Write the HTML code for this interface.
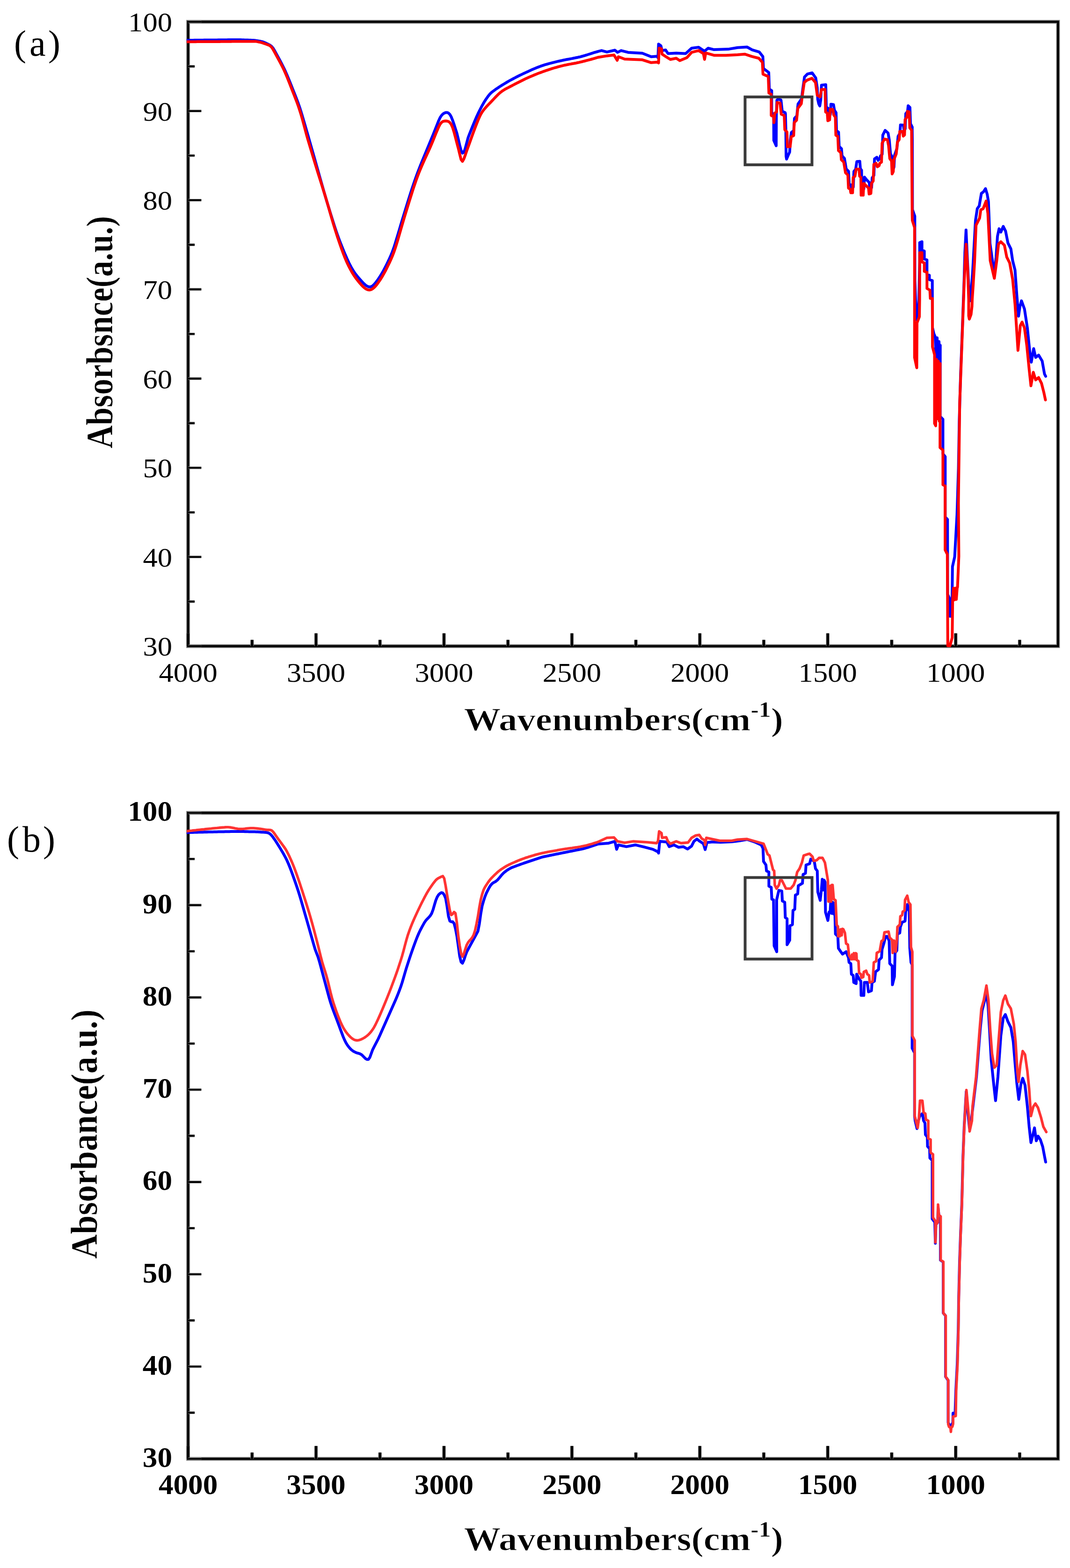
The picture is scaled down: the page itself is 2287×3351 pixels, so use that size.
<!DOCTYPE html>
<html lang="en"><head><meta charset="utf-8"><title>FTIR spectra</title>
<style>html,body{margin:0;padding:0;background:#fff}svg{display:block}</style></head>
<body>
<svg width="2287" height="3351" viewBox="0 0 2287 3351">
<rect width="2287" height="3351" fill="#fff"/>
<clipPath id="ca"><rect x="399.1" y="46.6" width="1862.3" height="1337.3"/></clipPath>
<rect x="402.1" y="46.6" width="1859.3" height="1334.3" fill="none" stroke="#808080" stroke-width="8.0"/>
<rect x="402.1" y="46.6" width="1859.3" height="1334.3" fill="none" stroke="#000" stroke-width="4.5"/>
<g clip-path="url(#ca)" fill="none" stroke-linejoin="round" stroke-linecap="round">
<polyline stroke="#0000ff" stroke-width="6" points="400.5,86.0 403.5,86.0 406.5,85.9 409.5,85.9 412.5,85.9 415.5,85.8 418.5,85.8 421.5,85.8 424.5,85.8 427.5,85.7 430.5,85.7 433.5,85.7 436.5,85.6 439.5,85.6 442.5,85.6 445.5,85.5 448.5,85.5 451.5,85.5 454.5,85.5 457.5,85.4 460.5,85.4 463.5,85.4 466.5,85.3 469.5,85.3 472.5,85.3 475.5,85.2 478.5,85.2 481.5,85.2 484.5,85.2 487.5,85.1 490.5,85.1 493.5,85.1 496.5,85.0 499.5,85.0 502.5,85.0 505.5,85.0 508.5,85.0 511.5,85.0 514.5,85.1 517.5,85.2 520.5,85.3 523.5,85.4 526.5,85.5 529.5,85.6 532.5,85.7 535.5,85.8 538.5,85.9 541.5,86.1 544.5,86.3 547.5,86.7 550.5,87.1 553.5,87.6 556.5,88.2 559.5,88.9 562.5,89.7 565.5,90.9 568.5,92.3 571.5,93.8 574.5,95.2 577.5,96.8 580.5,99.1 583.5,102.7 586.5,107.5 589.5,112.9 592.5,118.4 595.5,123.9 598.5,129.4 601.5,135.1 604.5,141.0 607.5,147.1 610.5,153.6 613.5,160.5 616.5,167.6 619.5,174.9 622.5,182.4 625.5,190.0 628.5,197.6 631.5,205.2 634.5,212.9 637.5,220.9 640.5,229.5 643.5,238.8 646.5,248.9 649.5,259.1 652.5,269.4 655.5,279.8 658.5,290.2 661.5,300.7 664.5,311.2 667.5,321.8 670.5,332.3 673.5,342.9 676.5,353.5 679.5,364.1 682.5,374.8 685.5,385.3 688.5,395.9 691.5,406.4 694.5,416.7 697.5,426.8 700.5,436.8 703.5,446.7 706.5,456.4 709.5,466.0 712.5,475.5 715.5,484.8 718.5,494.0 721.5,502.6 724.5,510.8 727.5,518.6 730.5,526.2 733.5,533.6 736.5,540.8 739.5,547.8 742.5,554.6 745.5,561.0 748.5,567.0 751.5,572.6 754.5,577.6 757.5,582.2 760.5,586.4 763.5,590.2 766.5,593.7 769.5,597.2 772.5,600.6 775.5,603.8 778.5,606.8 781.5,609.4 784.5,611.4 787.5,612.8 790.5,613.3 793.5,612.5 796.5,610.7 799.5,608.0 802.5,604.6 805.5,600.7 808.5,596.5 811.5,592.0 814.5,587.2 817.5,582.1 820.5,576.7 823.5,571.0 826.5,565.0 829.5,558.8 832.5,552.5 835.5,545.7 838.5,538.3 841.5,530.1 844.5,520.8 847.5,511.0 850.5,501.1 853.5,491.0 856.5,480.9 859.5,470.9 862.5,461.1 865.5,451.4 868.5,441.7 871.5,432.0 874.5,422.4 877.5,412.9 880.5,403.6 883.5,394.6 886.5,385.9 889.5,377.5 892.5,369.4 895.5,361.6 898.5,353.9 901.5,346.5 904.5,339.1 907.5,331.8 910.5,324.6 913.5,317.3 916.5,310.1 919.5,302.9 922.5,295.6 925.5,288.3 928.5,281.0 931.5,273.4 934.5,265.8 937.5,258.2 940.5,251.7 943.5,247.0 946.5,243.8 949.5,241.8 952.5,240.6 955.5,240.4 958.5,241.5 961.5,244.6 964.5,249.8 967.5,257.3 970.5,266.0 973.5,275.3 976.5,284.7 979.5,296.9 982.5,310.2 985.5,321.4 988.5,327.3 991.5,325.2 994.5,316.8 997.5,305.4 1000.5,294.3 1003.5,286.3 1006.5,278.9 1009.5,271.5 1012.5,264.1 1015.5,256.9 1018.5,250.0 1021.5,243.4 1024.5,237.2 1027.5,231.3 1030.5,225.7 1033.5,220.4 1036.5,215.5 1039.5,210.9 1042.5,206.7 1045.5,202.8 1048.5,199.5 1051.5,196.8 1054.5,194.6 1057.5,192.4 1060.5,190.2 1063.5,188.2 1066.5,186.2 1069.5,184.2 1072.5,182.4 1075.5,180.5 1078.5,178.7 1081.5,176.9 1084.5,175.1 1087.5,173.3 1090.5,171.7 1093.5,170.1 1096.5,168.5 1099.5,166.9 1102.5,165.3 1105.5,163.8 1108.5,162.3 1111.5,160.8 1114.5,159.4 1117.5,157.9 1120.5,156.5 1123.5,155.1 1126.5,153.7 1129.5,152.4 1132.5,151.0 1135.5,149.6 1138.5,148.3 1141.5,147.0 1144.5,145.8 1147.5,144.5 1150.5,143.4 1153.5,142.2 1156.5,141.1 1159.5,140.1 1162.5,139.1 1165.5,138.2 1168.5,137.3 1171.5,136.5 1174.5,135.6 1177.5,134.9 1180.5,134.1 1183.5,133.3 1186.5,132.6 1189.5,131.9 1192.5,131.2 1195.5,130.5 1198.5,129.8 1201.5,129.2 1204.5,128.5 1207.5,127.9 1210.5,127.3 1213.5,126.7 1216.5,126.2 1219.5,125.6 1222.5,125.1 1225.5,124.5 1228.5,123.9 1231.5,123.3 1234.5,122.7 1237.5,122.0 1240.5,121.3 1243.5,120.5 1246.5,119.7 1249.5,118.8 1252.5,117.9 1255.5,117.0 1258.5,116.0 1261.5,115.1 1264.5,114.1 1267.5,113.2 1270.5,112.2 1273.5,111.3 1276.5,110.5 1279.5,109.7 1282.5,108.9 1285.5,108.2 1285.9,108.1 1297.2,111.1 1314.3,107.3 1319.9,111.9 1327.5,108.1 1342.6,111.9 1372.9,113.8 1391.8,121.3 1405.0,120.2 1406.3,123.2 1407.6,94.2 1412.6,98.0 1415.1,108.1 1422.7,106.8 1427.7,114.4 1445.4,113.6 1465.6,114.4 1478.2,103.0 1493.3,101.0 1505.9,109.4 1513.5,103.0 1526.1,106.1 1556.4,105.1 1576.5,101.8 1596.7,100.5 1607.8,106.6 1622.9,111.2 1630.5,120.8 1631.8,146.4 1643.1,154.9 1644.4,190.5 1649.4,193.8 1649.4,239.2 1653.6,249.0 1653.9,300.0 1659.0,311.5 1659.4,245.0 1660.5,214.0 1663.0,212.1 1669.3,213.7 1671.9,237.9 1678.2,240.8 1678.8,243.0 1679.6,275.0 1680.2,334.0 1681.2,340.0 1685.0,331.0 1687.8,325.0 1689.2,300.0 1691.5,283.0 1696.5,279.0 1698.1,253.0 1703.1,247.5 1705.7,222.2 1713.2,211.4 1715.8,190.6 1719.5,164.6 1725.8,158.1 1735.9,155.8 1743.5,166.4 1746.8,188.0 1747.8,212.0 1750.0,222.0 1752.2,226.5 1754.2,214.0 1755.8,182.0 1765.0,181.0 1766.1,228.8 1769.7,231.2 1770.9,247.3 1774.7,245.4 1776.0,222.7 1781.5,223.5 1783.5,235.3 1787.0,240.8 1788.0,279.3 1792.3,282.5 1793.6,312.8 1798.6,317.9 1799.8,333.2 1804.9,338.5 1808.7,361.2 1813.7,366.2 1815.0,393.9 1818.8,395.2 1820.0,402.1 1823.8,399.9 1825.1,366.4 1828.8,361.9 1831.4,345.3 1837.7,344.7 1838.9,360.3 1841.5,363.7 1842.0,401.7 1846.5,403.3 1847.8,378.6 1852.8,384.9 1857.9,389.9 1859.1,402.6 1862.9,401.3 1864.2,379.9 1867.9,374.8 1869.2,339.5 1874.2,336.1 1876.8,342.6 1880.5,338.9 1881.8,333.4 1885.6,329.6 1886.9,288.7 1891.9,278.6 1898.2,284.4 1900.7,298.8 1903.3,328.6 1907.0,335.7 1908.3,363.1 1910.8,357.2 1912.1,331.5 1917.1,317.3 1919.6,291.2 1923.4,284.9 1924.7,266.9 1931.0,267.5 1932.2,277.7 1934.8,275.4 1936.0,242.8 1939.8,238.0 1941.1,225.9 1944.9,229.6 1946.1,264.4 1949.9,271.9 1949.7,273.3 1950.0,300.0 1950.3,448.0 1955.3,462.0 1955.5,600.0 1958.5,683.0 1961.0,683.0 1964.0,640.0 1965.7,560.0 1965.7,518.5 1970.6,516.5 1970.6,534.6 1975.6,536.5 1975.6,553.5 1981.3,555.5 1981.3,586.3 1986.4,588.3 1986.4,597.6 1992.7,599.6 1993.0,700.0 1996.0,713.0 1999.0,720.0 2001.0,770.0 2003.0,722.0 2005.0,772.0 2007.0,730.0 2009.5,775.0 2009.7,738.0 2009.5,890.0 2015.4,896.0 2015.4,970.0 2020.3,976.0 2020.3,1105.0 2025.2,1110.0 2025.5,1270.0 2029.8,1280.0 2030.3,1317.0 2034.5,1317.0 2035.3,1253.0 2035.8,1211.0 2040.5,1190.0 2045.5,1100.0 2048.6,1000.0 2050.3,900.0 2053.2,800.0 2057.0,700.0 2060.6,600.0 2062.3,540.0 2064.8,491.4 2068.0,560.0 2071.0,620.0 2073.6,643.0 2076.0,620.0 2079.0,580.0 2085.0,471.2 2088.8,446.0 2093.0,440.0 2097.6,413.2 2102.0,410.0 2106.4,403.1 2110.0,415.0 2112.7,430.9 2116.0,520.0 2121.6,560.0 2125.3,585.0 2129.0,550.0 2132.0,505.0 2135.4,488.9 2139.2,496.0 2144.3,483.8 2149.3,493.9 2154.3,519.2 2160.6,531.8 2164.4,557.0 2169.5,577.2 2173.3,630.0 2177.0,675.7 2180.0,655.0 2183.3,642.9 2189.7,660.5 2195.9,700.9 2201.0,751.3 2204.3,774.0 2209.3,745.0 2213.6,763.9 2219.9,758.9 2227.5,771.5 2232.5,799.2 2235.0,804.3"/>
<polyline stroke="#ff0000" stroke-width="6" points="400.5,89.2 403.5,89.2 406.5,89.2 409.5,89.2 412.5,89.2 415.5,89.2 418.5,89.2 421.5,89.1 424.5,89.1 427.5,89.1 430.5,89.1 433.5,89.1 436.5,89.1 439.5,89.1 442.5,89.0 445.5,89.0 448.5,89.0 451.5,89.0 454.5,89.0 457.5,88.9 460.5,88.9 463.5,88.9 466.5,88.9 469.5,88.9 472.5,88.8 475.5,88.8 478.5,88.8 481.5,88.8 484.5,88.7 487.5,88.7 490.5,88.7 493.5,88.7 496.5,88.6 499.5,88.6 502.5,88.6 505.5,88.6 508.5,88.5 511.5,88.5 514.5,88.5 517.5,88.5 520.5,88.5 523.5,88.5 526.5,88.4 529.5,88.4 532.5,88.4 535.5,88.4 538.5,88.4 541.5,88.4 544.5,88.4 547.5,88.6 550.5,89.1 553.5,89.7 556.5,90.3 559.5,91.1 562.5,92.1 565.5,93.2 568.5,94.3 571.5,95.4 574.5,96.4 577.5,98.1 580.5,100.9 583.5,105.4 586.5,110.7 589.5,116.2 592.5,121.7 595.5,127.2 598.5,132.8 601.5,138.5 604.5,144.4 607.5,150.7 610.5,157.5 613.5,164.7 616.5,172.1 619.5,179.7 622.5,187.4 625.5,195.1 628.5,202.7 631.5,210.4 634.5,218.3 637.5,226.6 640.5,235.5 643.5,245.1 646.5,255.7 649.5,266.8 652.5,278.1 655.5,289.2 658.5,299.7 661.5,309.7 664.5,319.7 667.5,329.7 670.5,339.7 673.5,349.5 676.5,359.3 679.5,369.0 682.5,378.6 685.5,388.1 688.5,397.7 691.5,407.3 694.5,417.0 697.5,426.9 700.5,437.0 703.5,447.4 706.5,457.8 709.5,468.1 712.5,478.3 715.5,488.2 718.5,497.7 721.5,507.0 724.5,515.9 727.5,524.6 730.5,533.1 733.5,541.3 736.5,549.0 739.5,556.2 742.5,562.9 745.5,569.1 748.5,574.9 751.5,580.4 754.5,585.4 757.5,590.0 760.5,594.3 763.5,598.2 766.5,602.0 769.5,605.6 772.5,609.0 775.5,612.1 778.5,614.9 781.5,617.1 784.5,618.7 787.5,619.6 790.5,619.7 793.5,618.8 796.5,617.1 799.5,614.7 802.5,611.6 805.5,608.0 808.5,603.9 811.5,599.6 814.5,595.0 817.5,590.1 820.5,584.8 823.5,579.3 826.5,573.4 829.5,567.3 832.5,561.1 835.5,554.6 838.5,547.6 841.5,539.9 844.5,531.3 847.5,521.8 850.5,511.8 853.5,501.5 856.5,491.0 859.5,480.6 862.5,470.3 865.5,460.4 868.5,450.6 871.5,440.8 874.5,431.1 877.5,421.5 880.5,412.0 883.5,402.7 886.5,393.7 889.5,385.1 892.5,376.8 895.5,369.0 898.5,361.6 901.5,354.5 904.5,347.7 907.5,341.1 910.5,334.6 913.5,328.1 916.5,321.6 919.5,314.8 922.5,307.8 925.5,300.5 928.5,293.1 931.5,285.7 934.5,278.5 937.5,271.5 940.5,265.7 943.5,261.9 946.5,259.7 949.5,258.8 952.5,258.6 955.5,258.8 958.5,259.6 961.5,261.8 964.5,266.0 967.5,272.9 970.5,282.5 973.5,293.8 976.5,305.5 979.5,316.6 982.5,329.1 985.5,340.9 988.5,344.9 991.5,339.5 994.5,331.4 997.5,322.5 1000.5,314.2 1003.5,305.9 1006.5,297.5 1009.5,289.2 1012.5,281.0 1015.5,273.0 1018.5,265.1 1021.5,257.6 1024.5,250.7 1027.5,244.5 1030.5,239.4 1033.5,235.3 1036.5,231.7 1039.5,228.3 1042.5,225.0 1045.5,221.9 1048.5,218.8 1051.5,215.7 1054.5,212.5 1057.5,209.3 1060.5,206.1 1063.5,203.1 1066.5,200.2 1069.5,197.6 1072.5,195.3 1075.5,193.2 1078.5,191.4 1081.5,189.7 1084.5,188.1 1087.5,186.6 1090.5,185.0 1093.5,183.5 1096.5,181.9 1099.5,180.3 1102.5,178.8 1105.5,177.2 1108.5,175.7 1111.5,174.2 1114.5,172.7 1117.5,171.2 1120.5,169.7 1123.5,168.3 1126.5,166.9 1129.5,165.6 1132.5,164.3 1135.5,163.0 1138.5,161.7 1141.5,160.4 1144.5,159.2 1147.5,158.0 1150.5,156.8 1153.5,155.7 1156.5,154.6 1159.5,153.5 1162.5,152.4 1165.5,151.4 1168.5,150.3 1171.5,149.3 1174.5,148.3 1177.5,147.4 1180.5,146.4 1183.5,145.5 1186.5,144.6 1189.5,143.8 1192.5,142.9 1195.5,142.1 1198.5,141.3 1201.5,140.6 1204.5,139.9 1207.5,139.2 1210.5,138.6 1213.5,138.0 1216.5,137.4 1219.5,136.9 1222.5,136.3 1225.5,135.8 1228.5,135.2 1231.5,134.7 1234.5,134.0 1237.5,133.4 1240.5,132.7 1243.5,132.0 1246.5,131.2 1249.5,130.5 1252.5,129.7 1255.5,128.9 1258.5,128.1 1261.5,127.3 1264.5,126.5 1267.5,125.7 1270.5,124.8 1273.5,123.9 1276.5,123.0 1278.3,122.5 1297.2,119.4 1312.4,117.6 1319.2,128.9 1321.8,121.3 1335.1,126.3 1372.9,127.8 1391.8,133.8 1405.0,132.7 1407.6,134.6 1408.8,103.0 1413.9,104.3 1415.1,115.7 1422.7,120.7 1432.8,127.0 1445.4,124.5 1453.0,129.5 1468.1,123.2 1478.2,111.9 1493.3,108.1 1503.4,114.4 1505.9,127.0 1508.4,113.1 1526.1,118.2 1551.3,118.2 1576.5,116.9 1591.7,115.7 1606.8,120.7 1621.9,124.5 1629.5,133.3 1630.8,158.5 1642.1,163.6 1643.4,198.9 1648.4,201.4 1648.4,246.8 1653.5,249.3 1654.2,262.0 1656.0,241.8 1659.8,239.2 1661.0,219.1 1667.3,220.3 1669.9,244.3 1676.2,246.8 1677.4,277.1 1682.0,282.1 1683.0,313.6 1688.8,313.6 1691.3,292.2 1696.4,289.7 1697.6,262.0 1702.6,256.9 1705.2,231.7 1712.7,221.6 1715.3,201.4 1719.0,176.2 1725.3,171.1 1735.4,167.4 1743.0,176.2 1746.8,203.9 1753.1,207.0 1755.6,191.3 1763.5,191.3 1764.6,239.2 1768.2,241.8 1769.4,258.0 1773.2,256.3 1774.5,233.6 1780.0,234.0 1782.0,245.6 1785.5,250.6 1786.5,289.0 1790.8,291.6 1792.1,321.8 1797.1,326.3 1798.3,341.4 1803.4,346.5 1807.2,369.2 1812.2,374.2 1813.5,401.9 1817.3,404.5 1818.5,412.0 1822.3,412.0 1823.6,379.2 1827.3,376.7 1829.9,361.6 1836.2,361.6 1837.4,376.7 1840.0,379.2 1840.5,417.1 1845.0,417.1 1846.3,391.9 1851.3,396.9 1856.4,401.9 1857.6,414.6 1861.4,413.3 1862.7,391.9 1866.4,386.8 1867.7,351.5 1872.7,349.0 1875.3,356.5 1879.0,354.0 1880.3,349.0 1884.1,346.5 1885.4,306.1 1890.4,297.3 1896.7,298.5 1899.2,311.1 1901.8,338.9 1905.5,343.9 1906.8,371.7 1909.3,366.6 1910.6,341.4 1915.6,328.8 1918.1,303.6 1921.9,298.5 1923.2,280.9 1929.5,280.9 1930.7,291.0 1933.3,288.4 1934.5,255.7 1938.3,250.6 1939.6,238.0 1943.4,239.2 1944.6,273.3 1948.4,278.3 1949.7,457.4 1950.0,471.2 1954.8,486.4 1954.8,763.9 1959.5,786.0 1960.0,690.0 1965.0,677.0 1965.6,640.0 1965.8,540.0 1970.6,540.0 1970.6,559.8 1975.6,562.0 1975.6,580.0 1981.3,582.0 1981.3,616.5 1987.5,620.0 1988.5,637.8 1992.9,638.0 1993.1,741.2 1997.5,758.0 1997.5,905.0 2000.0,910.0 2001.5,768.0 2003.5,895.0 2005.5,772.0 2007.5,900.0 2009.4,777.0 2009.2,956.5 2015.4,962.1 2015.4,1035.9 2020.1,1038.7 2020.1,1175.2 2024.8,1184.7 2025.8,1380.0 2030.5,1380.0 2035.2,1362.5 2036.2,1283.0 2038.0,1257.0 2040.0,1282.0 2042.0,1257.0 2044.0,1281.0 2046.0,1254.7 2046.6,1254.7 2049.4,1188.5 2048.5,1075.0 2051.3,860.0 2061.0,600.0 2063.0,560.0 2064.9,522.0 2068.0,570.0 2070.5,640.0 2070.5,675.0 2071.8,682.0 2075.5,672.0 2077.5,655.0 2078.0,640.0 2080.0,610.0 2083.0,560.0 2086.2,481.3 2093.8,466.2 2096.3,448.5 2101.4,446.0 2107.7,429.6 2111.5,456.1 2114.0,506.5 2116.5,557.0 2125.3,594.8 2130.4,557.0 2134.2,521.7 2139.2,516.6 2146.8,524.2 2151.8,549.4 2158.1,562.0 2164.4,597.0 2169.5,650.4 2175.8,748.8 2180.8,695.8 2184.6,688.3 2189.7,700.9 2194.7,738.7 2199.7,789.2 2203.5,824.5 2208.6,795.5 2213.6,811.9 2219.9,806.8 2226.2,819.4 2231.3,839.6 2234.5,854.7"/>
</g>
<rect x="1592.5" y="207.2" width="143.0" height="145.0" fill="none" stroke="#3a3a3a" stroke-width="6"/>
<path d="M402.1 1380.9V1353.4M538.8 1380.9V1367.4M675.5 1380.9V1353.4M812.2 1380.9V1367.4M949.0 1380.9V1353.4M1085.7 1380.9V1367.4M1222.4 1380.9V1353.4M1359.1 1380.9V1367.4M1495.8 1380.9V1353.4M1632.5 1380.9V1367.4M1769.2 1380.9V1353.4M1905.9 1380.9V1367.4M2042.7 1380.9V1353.4M2179.4 1380.9V1367.4" stroke="#808080" stroke-width="7.4" fill="none"/>
<path d="M402.1 1380.9V1353.4M538.8 1380.9V1367.4M675.5 1380.9V1353.4M812.2 1380.9V1367.4M949.0 1380.9V1353.4M1085.7 1380.9V1367.4M1222.4 1380.9V1353.4M1359.1 1380.9V1367.4M1495.8 1380.9V1353.4M1632.5 1380.9V1367.4M1769.2 1380.9V1353.4M1905.9 1380.9V1367.4M2042.7 1380.9V1353.4M2179.4 1380.9V1367.4" stroke="#000" stroke-width="5.4" fill="none"/>
<path d="M402.1 46.6H430.3M402.1 141.9H416.1M402.1 237.2H430.3M402.1 332.5H416.1M402.1 427.8H430.3M402.1 523.1H416.1M402.1 618.4H430.3M402.1 713.8H416.1M402.1 809.1H430.3M402.1 904.4H416.1M402.1 999.7H430.3M402.1 1095.0H416.1M402.1 1190.3H430.3M402.1 1285.6H416.1M402.1 1380.9H430.3" stroke="#808080" stroke-width="5.6" fill="none"/>
<path d="M402.1 46.6H430.3M402.1 141.9H416.1M402.1 237.2H430.3M402.1 332.5H416.1M402.1 427.8H430.3M402.1 523.1H416.1M402.1 618.4H430.3M402.1 713.8H416.1M402.1 809.1H430.3M402.1 904.4H416.1M402.1 999.7H430.3M402.1 1095.0H416.1M402.1 1190.3H430.3M402.1 1285.6H416.1M402.1 1380.9H430.3" stroke="#000" stroke-width="3.6" fill="none"/>
<g font-family="'Liberation Serif', serif" font-size="58" fill="#000">
<text x="368" y="67.1" text-anchor="end" textLength="93.9" lengthAdjust="spacingAndGlyphs">100</text>
<text x="368" y="257.7" text-anchor="end" textLength="62.6" lengthAdjust="spacingAndGlyphs">90</text>
<text x="368" y="448.3" text-anchor="end" textLength="62.6" lengthAdjust="spacingAndGlyphs">80</text>
<text x="368" y="638.9" text-anchor="end" textLength="62.6" lengthAdjust="spacingAndGlyphs">70</text>
<text x="368" y="829.6" text-anchor="end" textLength="62.6" lengthAdjust="spacingAndGlyphs">60</text>
<text x="368" y="1020.2" text-anchor="end" textLength="62.6" lengthAdjust="spacingAndGlyphs">50</text>
<text x="368" y="1210.8" text-anchor="end" textLength="62.6" lengthAdjust="spacingAndGlyphs">40</text>
<text x="368" y="1401.4" text-anchor="end" textLength="62.6" lengthAdjust="spacingAndGlyphs">30</text>
<text x="402.1" y="1456.5" text-anchor="middle" textLength="125.2" lengthAdjust="spacingAndGlyphs">4000</text>
<text x="675.5" y="1456.5" text-anchor="middle" textLength="125.2" lengthAdjust="spacingAndGlyphs">3500</text>
<text x="949.0" y="1456.5" text-anchor="middle" textLength="125.2" lengthAdjust="spacingAndGlyphs">3000</text>
<text x="1222.4" y="1456.5" text-anchor="middle" textLength="125.2" lengthAdjust="spacingAndGlyphs">2500</text>
<text x="1495.8" y="1456.5" text-anchor="middle" textLength="125.2" lengthAdjust="spacingAndGlyphs">2000</text>
<text x="1769.2" y="1456.5" text-anchor="middle" textLength="125.2" lengthAdjust="spacingAndGlyphs">1500</text>
<text x="2042.7" y="1456.5" text-anchor="middle" textLength="125.2" lengthAdjust="spacingAndGlyphs">1000</text>
</g>
<text transform="translate(240.2 958.6) rotate(-90) scale(1 1.150)" font-family="'Liberation Serif', serif" font-weight="bold" font-size="69" textLength="497.0" lengthAdjust="spacingAndGlyphs" stroke="#fff" stroke-width="0.6">Absorbsnce(a.u.)</text>
<text transform="translate(991.5 1560.6) scale(1.126 1)" font-family="'Liberation Serif', serif" font-weight="bold" font-size="70" stroke="#fff" stroke-width="1.1">Wavenumbers(cm<tspan font-size="46.2" dy="-29.05" stroke-width="0.6">-1</tspan><tspan dy="29.05">)</tspan></text>
<text font-family="'Liberation Serif', serif" font-size="78" y="119.2"><tspan x="30">(</tspan><tspan x="63">a</tspan><tspan x="103">)</tspan></text>
<clipPath id="cb"><rect x="399.1" y="1737.2" width="1862.3" height="1383.5"/></clipPath>
<rect x="402.1" y="1737.2" width="1859.3" height="1380.5" fill="none" stroke="#808080" stroke-width="8.0"/>
<rect x="402.1" y="1737.2" width="1859.3" height="1380.5" fill="none" stroke="#000" stroke-width="4.5"/>
<g clip-path="url(#cb)" fill="none" stroke-linejoin="round" stroke-linecap="round">
<polyline stroke="#0000ff" stroke-width="6" points="400.5,1779.2 403.5,1779.1 406.5,1779.0 409.5,1779.0 412.5,1778.9 415.5,1778.8 418.5,1778.7 421.5,1778.7 424.5,1778.6 427.5,1778.5 430.5,1778.5 433.5,1778.4 436.5,1778.3 439.5,1778.2 442.5,1778.2 445.5,1778.1 448.5,1778.0 451.5,1778.0 454.5,1777.9 457.5,1777.8 460.5,1777.8 463.5,1777.7 466.5,1777.6 469.5,1777.6 472.5,1777.5 475.5,1777.4 478.5,1777.4 481.5,1777.3 484.5,1777.3 487.5,1777.2 490.5,1777.2 493.5,1777.1 496.5,1777.1 499.5,1777.0 502.5,1777.0 505.5,1776.9 508.5,1776.9 511.5,1777.0 514.5,1777.0 517.5,1777.0 520.5,1777.1 523.5,1777.2 526.5,1777.2 529.5,1777.3 532.5,1777.4 535.5,1777.4 538.5,1777.5 541.5,1777.5 544.5,1777.6 547.5,1777.7 550.5,1777.8 553.5,1778.0 556.5,1778.2 559.5,1778.4 562.5,1778.6 565.5,1778.8 568.5,1779.1 571.5,1779.4 574.5,1780.5 577.5,1782.4 580.5,1785.4 583.5,1789.2 586.5,1793.4 589.5,1797.9 592.5,1802.6 595.5,1807.4 598.5,1812.3 601.5,1817.3 604.5,1822.3 607.5,1827.6 610.5,1833.2 613.5,1839.2 616.5,1846.0 619.5,1853.4 622.5,1861.3 625.5,1869.6 628.5,1878.0 631.5,1886.5 634.5,1895.2 637.5,1904.2 640.5,1913.8 643.5,1924.0 646.5,1934.4 649.5,1944.9 652.5,1955.3 655.5,1965.8 658.5,1976.3 661.5,1986.8 664.5,1997.4 667.5,2007.9 670.5,2018.5 673.5,2028.7 676.5,2036.7 679.5,2044.4 682.5,2054.3 685.5,2065.2 688.5,2076.5 691.5,2087.8 694.5,2098.8 697.5,2109.9 700.5,2121.1 703.5,2132.1 706.5,2142.4 709.5,2151.5 712.5,2159.7 715.5,2167.6 718.5,2175.5 721.5,2183.5 724.5,2191.5 727.5,2199.6 730.5,2207.6 733.5,2215.6 736.5,2222.6 739.5,2228.6 742.5,2233.5 745.5,2237.6 748.5,2241.0 751.5,2243.9 754.5,2246.1 757.5,2247.9 760.5,2249.3 763.5,2250.3 766.5,2251.2 769.5,2252.1 772.5,2253.8 775.5,2256.5 778.5,2259.7 781.5,2262.6 784.5,2264.2 787.5,2264.0 790.5,2259.7 793.5,2251.4 796.5,2243.3 799.5,2237.4 802.5,2231.7 805.5,2225.9 808.5,2220.0 811.5,2213.6 814.5,2206.8 817.5,2200.1 820.5,2193.3 823.5,2186.5 826.5,2179.7 829.5,2173.0 832.5,2166.2 835.5,2159.5 838.5,2152.7 841.5,2146.0 844.5,2139.2 847.5,2132.2 850.5,2124.9 853.5,2117.2 856.5,2109.0 859.5,2099.9 862.5,2089.7 865.5,2079.2 868.5,2069.2 871.5,2059.8 874.5,2050.6 877.5,2041.6 880.5,2032.9 883.5,2024.4 886.5,2016.2 889.5,2008.3 892.5,2000.7 895.5,1993.7 898.5,1987.5 901.5,1981.8 904.5,1976.4 907.5,1971.1 910.5,1966.8 913.5,1963.6 916.5,1960.6 919.5,1957.2 922.5,1952.4 925.5,1944.5 928.5,1934.2 931.5,1924.2 934.5,1916.9 937.5,1912.2 940.5,1909.3 943.5,1907.6 946.5,1908.4 949.5,1912.6 952.5,1919.8 955.5,1937.1 958.5,1958.2 961.5,1968.3 964.5,1970.0 967.5,1969.8 970.5,1973.5 973.5,1984.7 976.5,2000.1 979.5,2021.4 982.5,2043.5 985.5,2055.8 988.5,2058.5 991.5,2052.0 994.5,2042.8 997.5,2034.6 1000.5,2028.8 1003.5,2023.3 1006.5,2017.8 1009.5,2012.3 1012.5,2006.8 1015.5,2001.3 1018.5,1995.8 1021.5,1990.1 1024.5,1975.0 1027.5,1953.3 1030.5,1936.2 1033.5,1925.6 1036.5,1916.3 1039.5,1908.8 1042.5,1902.8 1045.5,1897.1 1048.5,1892.2 1051.5,1888.7 1054.5,1886.5 1057.5,1884.9 1060.5,1883.1 1063.5,1880.5 1066.5,1877.1 1069.5,1873.4 1072.5,1869.7 1075.5,1866.4 1078.5,1863.8 1081.5,1861.5 1084.5,1859.4 1087.5,1857.5 1090.5,1855.8 1093.5,1854.3 1096.5,1853.1 1099.5,1852.0 1102.5,1850.9 1105.5,1849.8 1108.5,1848.7 1111.5,1847.6 1114.5,1846.5 1117.5,1845.5 1120.5,1844.4 1123.5,1843.4 1126.5,1842.4 1129.5,1841.4 1132.5,1840.4 1135.5,1839.4 1138.5,1838.4 1141.5,1837.4 1144.5,1836.3 1147.5,1835.3 1150.5,1834.3 1153.5,1833.3 1156.5,1832.4 1159.5,1831.5 1162.5,1830.8 1165.5,1830.2 1168.5,1829.6 1171.5,1829.0 1174.5,1828.3 1177.5,1827.7 1180.5,1827.1 1183.5,1826.5 1186.5,1825.9 1189.5,1825.3 1192.5,1824.7 1195.5,1824.1 1198.5,1823.5 1201.5,1822.9 1204.5,1822.3 1207.5,1821.7 1210.5,1821.1 1213.5,1820.5 1216.5,1819.9 1219.5,1819.3 1222.5,1818.7 1225.5,1818.1 1228.5,1817.5 1231.5,1816.9 1234.5,1816.3 1237.5,1815.7 1240.5,1815.1 1243.5,1814.5 1246.5,1813.8 1249.5,1813.0 1252.5,1812.2 1255.5,1811.3 1258.5,1810.4 1261.5,1809.5 1264.5,1808.5 1267.5,1807.5 1270.5,1806.5 1273.5,1805.5 1276.5,1804.4 1278.3,1803.8 1301.0,1801.9 1314.3,1798.1 1318.0,1815.1 1321.8,1805.7 1338.8,1809.4 1357.8,1805.7 1376.7,1810.2 1395.6,1815.1 1406.9,1820.8 1407.6,1823.3 1410.1,1798.1 1425.2,1799.4 1430.3,1809.4 1440.4,1805.7 1450.4,1810.7 1460.5,1809.4 1469.4,1814.5 1478.2,1808.2 1483.2,1798.1 1489.5,1793.1 1495.8,1798.1 1503.4,1803.1 1507.2,1815.7 1511.0,1800.6 1521.1,1799.4 1540.0,1800.0 1563.9,1799.0 1580.0,1797.0 1596.7,1794.0 1614.4,1800.0 1627.0,1805.7 1630.8,1813.2 1632.0,1841.0 1637.1,1848.5 1638.3,1861.2 1643.4,1863.7 1643.4,1893.9 1648.4,1896.5 1649.7,1921.7 1653.3,1923.0 1654.6,2021.4 1660.2,2034.0 1660.0,1923.0 1664.7,1902.9 1671.0,1904.1 1672.2,1925.6 1677.3,1928.1 1678.5,1960.9 1682.3,1963.4 1682.3,2018.9 1688.0,2009.3 1688.5,1978.5 1693.7,1976.0 1694.9,1945.8 1698.7,1943.2 1700.0,1913.0 1705.0,1910.4 1706.3,1892.8 1715.1,1887.7 1716.5,1868.7 1721.6,1866.2 1722.8,1848.5 1730.4,1846.0 1732.9,1835.9 1740.5,1841.0 1743.0,1856.1 1746.8,1861.2 1748.0,1906.5 1753.1,1924.2 1755.6,1901.5 1757.5,1879.0 1759.5,1902.0 1761.5,1881.0 1763.5,1885.0 1764.4,1949.4 1769.5,1967.1 1772.0,1949.4 1774.5,1947.0 1775.5,1928.0 1777.5,1952.0 1779.5,1928.0 1781.5,1953.0 1783.0,1930.0 1784.6,1957.0 1785.7,1996.2 1790.8,2001.2 1792.0,2026.5 1797.1,2034.0 1800.9,2039.1 1808.4,2034.0 1813.5,2046.6 1814.7,2056.7 1818.5,2059.2 1819.8,2081.9 1823.6,2084.5 1824.8,2099.6 1829.9,2102.1 1831.1,2081.9 1836.2,2092.0 1840.0,2097.1 1840.5,2127.3 1846.3,2127.3 1847.5,2099.6 1853.8,2099.6 1856.3,2119.8 1862.6,2117.2 1863.9,2099.6 1868.9,2097.1 1871.5,2076.9 1877.8,2071.8 1879.0,2051.7 1884.1,2046.6 1885.3,2029.0 1889.1,2016.4 1892.9,2001.2 1896.7,2001.2 1900.5,2011.3 1901.7,2059.2 1906.8,2064.3 1907.5,2104.6 1911.8,2087.0 1913.1,2036.5 1916.9,2031.5 1918.1,1996.2 1923.2,1993.7 1924.4,1981.1 1928.2,1971.0 1934.5,1968.4 1935.8,1948.3 1939.6,1933.1 1943.4,1948.3 1944.6,2026.5 1947.1,2056.7 1949.6,2061.8 1949.6,2240.0 1954.8,2250.0 1954.8,2385.0 1956.0,2395.0 1960.0,2412.0 1963.0,2395.0 1966.0,2385.0 1971.5,2380.0 1974.0,2395.0 1977.0,2400.0 1978.0,2425.0 1982.0,2430.0 1982.5,2450.0 1987.0,2455.0 1987.5,2475.0 1992.5,2480.0 1992.5,2605.0 1998.0,2612.0 1999.2,2657.0 2000.5,2617.2 2004.3,2612.1 2005.0,2580.0 2006.8,2597.0 2010.0,2600.0 2010.0,2693.0 2016.0,2697.0 2016.0,2806.0 2021.0,2812.0 2021.0,2942.0 2026.5,2950.0 2026.5,3040.0 2032.0,3050.0 2036.5,3040.0 2037.0,3020.0 2041.5,3018.0 2043.0,2972.0 2046.0,2915.0 2048.2,2840.0 2049.2,2772.0 2051.0,2697.0 2053.0,2640.0 2055.8,2572.0 2058.3,2471.0 2060.8,2408.0 2065.2,2333.0 2070.0,2390.0 2072.0,2410.0 2076.0,2395.0 2079.5,2364.8 2087.0,2301.8 2091.0,2251.3 2095.0,2200.9 2099.0,2160.0 2104.0,2140.0 2108.4,2122.7 2112.0,2150.0 2115.0,2200.9 2118.5,2264.0 2123.6,2314.0 2127.9,2352.2 2132.9,2301.8 2139.2,2213.5 2144.3,2175.7 2148.8,2168.1 2154.3,2183.2 2160.6,2195.8 2165.7,2226.1 2169.5,2271.5 2173.3,2314.4 2177.5,2349.7 2182.1,2316.9 2185.9,2304.3 2190.9,2319.4 2195.9,2364.8 2199.7,2407.8 2203.5,2441.9 2207.0,2428.0 2211.1,2410.4 2214.9,2438.1 2218.7,2428.0 2223.7,2435.6 2228.7,2450.7 2232.5,2470.9 2235.0,2483.5"/>
<polyline stroke="#ff3333" stroke-width="5.6" points="400.5,1776.2 403.5,1775.8 406.5,1775.5 409.5,1775.2 412.5,1774.8 415.5,1774.5 418.5,1774.2 421.5,1773.8 424.5,1773.5 427.5,1773.2 430.5,1772.9 433.5,1772.6 436.5,1772.3 439.5,1771.9 442.5,1771.6 445.5,1771.3 448.5,1771.0 451.5,1770.7 454.5,1770.3 457.5,1770.0 460.5,1769.7 463.5,1769.5 466.5,1769.2 469.5,1768.9 472.5,1768.6 475.5,1768.4 478.5,1768.2 481.5,1767.9 484.5,1767.7 487.5,1767.8 490.5,1768.0 493.5,1768.4 496.5,1769.0 499.5,1769.6 502.5,1770.2 505.5,1770.7 508.5,1771.2 511.5,1771.5 514.5,1771.6 517.5,1771.5 520.5,1771.3 523.5,1771.0 526.5,1770.6 529.5,1770.3 532.5,1770.0 535.5,1769.7 538.5,1769.7 541.5,1769.8 544.5,1770.0 547.5,1770.2 550.5,1770.6 553.5,1771.0 556.5,1771.4 559.5,1771.8 562.5,1772.3 565.5,1772.8 568.5,1773.2 571.5,1773.6 574.5,1773.6 577.5,1773.7 580.5,1774.7 583.5,1777.3 586.5,1781.2 589.5,1785.6 592.5,1789.9 595.5,1794.1 598.5,1798.2 601.5,1802.2 604.5,1806.3 607.5,1810.5 610.5,1814.9 613.5,1820.2 616.5,1826.0 619.5,1832.3 622.5,1839.0 625.5,1846.0 628.5,1853.5 631.5,1861.4 634.5,1869.7 637.5,1878.4 640.5,1887.2 643.5,1896.3 646.5,1905.4 649.5,1914.8 652.5,1924.2 655.5,1933.7 658.5,1943.4 661.5,1953.3 664.5,1963.6 667.5,1974.2 670.5,1985.3 673.5,1996.6 676.5,2008.1 679.5,2019.8 682.5,2031.8 685.5,2044.1 688.5,2055.5 691.5,2065.5 694.5,2074.8 697.5,2084.6 700.5,2095.8 703.5,2108.3 706.5,2121.0 709.5,2132.5 712.5,2142.5 715.5,2151.7 718.5,2160.3 721.5,2168.4 724.5,2176.1 727.5,2183.4 730.5,2190.0 733.5,2195.8 736.5,2200.9 739.5,2205.4 742.5,2209.3 745.5,2212.7 748.5,2215.8 751.5,2218.5 754.5,2220.6 757.5,2222.2 760.5,2223.1 763.5,2223.4 766.5,2223.0 769.5,2222.2 772.5,2221.1 775.5,2219.6 778.5,2217.9 781.5,2215.9 784.5,2213.6 787.5,2211.0 790.5,2207.9 793.5,2204.4 796.5,2200.2 799.5,2195.4 802.5,2189.9 805.5,2183.6 808.5,2177.2 811.5,2170.5 814.5,2163.7 817.5,2156.7 820.5,2149.4 823.5,2142.1 826.5,2134.7 829.5,2127.2 832.5,2119.7 835.5,2112.0 838.5,2104.1 841.5,2096.0 844.5,2087.9 847.5,2079.5 850.5,2070.8 853.5,2061.7 856.5,2052.5 859.5,2042.8 862.5,2031.9 865.5,2020.4 868.5,2009.3 871.5,1999.0 874.5,1990.3 877.5,1982.3 880.5,1974.7 883.5,1967.6 886.5,1960.9 889.5,1954.3 892.5,1947.9 895.5,1941.6 898.5,1935.4 901.5,1929.3 904.5,1923.4 907.5,1917.6 910.5,1912.0 913.5,1906.7 916.5,1901.7 919.5,1897.2 922.5,1892.8 925.5,1888.7 928.5,1884.7 931.5,1880.9 934.5,1878.3 937.5,1876.4 940.5,1874.9 943.5,1873.5 946.5,1872.3 949.5,1877.4 952.5,1893.2 955.5,1911.8 958.5,1929.2 961.5,1945.9 964.5,1955.3 967.5,1953.3 970.5,1949.1 973.5,1951.9 976.5,1972.0 979.5,2000.0 982.5,2021.0 985.5,2037.6 988.5,2044.4 991.5,2038.1 994.5,2028.5 997.5,2019.5 1000.5,2014.0 1003.5,2010.3 1006.5,2007.2 1009.5,2003.3 1012.5,1997.4 1015.5,1988.0 1018.5,1974.3 1021.5,1958.6 1024.5,1939.4 1027.5,1923.0 1030.5,1911.1 1033.5,1902.1 1036.5,1896.0 1039.5,1891.2 1042.5,1886.7 1045.5,1882.5 1048.5,1878.7 1051.5,1875.5 1054.5,1872.6 1057.5,1869.6 1060.5,1866.7 1063.5,1863.9 1066.5,1861.4 1069.5,1859.1 1072.5,1857.0 1075.5,1855.1 1078.5,1853.2 1081.5,1851.3 1084.5,1849.7 1087.5,1848.1 1090.5,1846.7 1093.5,1845.3 1096.5,1844.0 1099.5,1842.7 1102.5,1841.4 1105.5,1840.1 1108.5,1838.8 1111.5,1837.6 1114.5,1836.5 1117.5,1835.3 1120.5,1834.3 1123.5,1833.2 1126.5,1832.3 1129.5,1831.3 1132.5,1830.4 1135.5,1829.5 1138.5,1828.6 1141.5,1827.7 1144.5,1826.8 1147.5,1826.0 1150.5,1825.2 1153.5,1824.4 1156.5,1823.7 1159.5,1823.0 1162.5,1822.4 1165.5,1821.8 1168.5,1821.2 1171.5,1820.6 1174.5,1820.1 1177.5,1819.5 1180.5,1818.9 1183.5,1818.4 1186.5,1817.9 1189.5,1817.4 1192.5,1816.8 1195.5,1816.3 1198.5,1815.8 1201.5,1815.3 1204.5,1814.8 1207.5,1814.3 1210.5,1813.9 1213.5,1813.4 1216.5,1813.0 1219.5,1812.6 1222.5,1812.2 1225.5,1811.7 1228.5,1811.3 1231.5,1810.9 1234.5,1810.4 1237.5,1809.9 1240.5,1809.4 1243.5,1808.8 1246.5,1808.2 1249.5,1807.6 1252.5,1806.9 1255.5,1806.1 1258.5,1805.3 1261.5,1804.4 1264.5,1803.6 1267.5,1802.7 1270.5,1801.7 1273.5,1800.8 1276.5,1799.8 1278.3,1799.2 1297.2,1790.5 1312.4,1789.8 1319.9,1798.1 1335.1,1801.1 1353.9,1798.1 1384.2,1800.0 1403.2,1801.9 1406.3,1798.1 1408.8,1776.7 1413.9,1780.4 1415.1,1790.5 1424.0,1789.3 1427.7,1798.1 1432.8,1803.1 1445.4,1798.1 1455.5,1801.9 1470.6,1800.6 1478.2,1790.5 1487.0,1785.5 1494.6,1784.2 1499.6,1791.8 1505.9,1795.6 1507.2,1805.7 1509.7,1790.5 1521.1,1793.1 1538.7,1796.8 1563.9,1796.8 1576.5,1794.3 1596.7,1793.1 1614.4,1798.1 1632.0,1803.1 1637.1,1815.7 1640.9,1825.8 1644.6,1828.4 1648.4,1843.5 1652.2,1858.6 1654.7,1861.2 1656.0,1891.4 1659.8,1899.0 1664.8,1891.4 1667.3,1881.3 1671.1,1881.3 1676.2,1891.4 1679.9,1899.0 1690.0,1899.0 1696.3,1891.4 1700.1,1881.3 1703.9,1863.7 1709.0,1856.1 1714.0,1843.5 1717.8,1828.4 1725.3,1825.8 1730.4,1824.6 1736.7,1830.9 1739.2,1839.7 1745.5,1838.4 1750.6,1833.4 1758.1,1833.4 1763.2,1843.5 1767.0,1866.2 1769.5,1881.3 1770.7,1926.7 1772.0,1895.0 1773.5,1926.7 1775.0,1893.0 1776.5,1926.7 1778.0,1891.4 1779.6,1891.4 1782.1,1921.7 1785.9,1924.2 1788.4,1977.2 1791.0,1980.0 1791.5,2001.0 1793.5,1987.0 1795.0,2001.0 1797.0,1986.0 1799.0,1999.0 1800.5,1985.0 1802.5,1986.0 1805.9,1993.7 1808.4,2016.4 1812.2,2018.9 1814.7,2041.6 1818.0,2047.0 1819.5,2050.0 1821.0,2040.0 1823.0,2050.0 1825.0,2037.0 1827.0,2050.0 1829.0,2037.0 1830.5,2038.0 1831.1,2051.7 1834.9,2054.2 1836.2,2079.4 1840.0,2081.9 1841.2,2089.5 1845.0,2088.2 1846.3,2076.9 1851.3,2074.4 1853.8,2081.9 1857.6,2084.5 1858.9,2099.6 1865.2,2097.1 1867.7,2056.7 1872.7,2054.2 1874.0,2036.5 1880.3,2032.8 1884.1,2011.3 1887.9,2008.8 1890.4,1992.4 1899.2,1991.1 1901.7,2003.8 1906.8,2008.8 1908.0,2036.5 1911.0,2010.0 1914.3,2034.0 1916.9,2008.8 1918.1,1981.1 1923.2,1976.0 1924.4,1958.4 1928.2,1955.8 1929.5,1948.3 1933.3,1945.8 1934.5,1923.0 1939.1,1914.2 1942.1,1928.1 1945.9,1933.1 1947.1,2023.9 1950.0,2034.0 1950.0,2213.5 1955.1,2223.6 1955.1,2385.0 1956.4,2390.2 1961.4,2410.4 1964.0,2390.0 1966.4,2352.2 1971.5,2352.2 1974.0,2377.4 1977.8,2380.0 1979.1,2392.7 1984.1,2395.2 1984.1,2433.1 1989.1,2435.6 1989.1,2463.3 1994.2,2467.1 1994.2,2602.0 1999.2,2609.6 1999.2,2655.0 2000.5,2617.2 2004.3,2612.1 2005.0,2574.3 2006.8,2597.0 2010.6,2599.5 2010.6,2693.0 2016.3,2696.7 2016.3,2806.4 2021.4,2812.1 2021.4,2942.1 2026.7,2949.7 2026.7,3044.0 2028.5,3049.5 2031.5,3050.5 2032.4,3060.0 2033.3,3050.5 2035.5,3049.0 2037.1,3043.0 2037.1,3027.3 2042.8,3026.3 2043.7,2972.4 2046.6,2915.7 2048.5,2840.0 2049.4,2772.4 2051.3,2696.7 2053.2,2640.0 2056.0,2571.8 2058.5,2470.9 2061.0,2407.8 2065.6,2329.5 2071.1,2390.0 2072.4,2417.9 2077.4,2395.2 2078.7,2364.8 2086.2,2301.8 2090.0,2251.3 2093.8,2200.9 2097.6,2155.5 2102.6,2137.8 2108.4,2106.3 2112.7,2137.8 2116.5,2200.9 2120.3,2251.3 2125.3,2281.6 2130.4,2276.5 2134.2,2226.1 2139.2,2163.0 2144.3,2137.8 2148.8,2127.7 2154.3,2145.4 2160.6,2155.5 2166.9,2188.3 2170.7,2226.1 2174.5,2289.2 2177.0,2311.9 2180.8,2276.5 2185.9,2246.3 2190.9,2253.8 2195.9,2289.2 2199.7,2327.0 2203.5,2385.0 2208.6,2364.8 2213.1,2358.5 2218.6,2367.3 2225.0,2388.0 2230.0,2407.8 2236.3,2419.2"/>
</g>
<rect x="1592.6" y="1875.4" width="143.0" height="174.2" fill="none" stroke="#3a3a3a" stroke-width="6"/>
<path d="M402.1 3117.7V3090.2M538.8 3117.7V3104.2M675.5 3117.7V3090.2M812.2 3117.7V3104.2M949.0 3117.7V3090.2M1085.7 3117.7V3104.2M1222.4 3117.7V3090.2M1359.1 3117.7V3104.2M1495.8 3117.7V3090.2M1632.5 3117.7V3104.2M1769.2 3117.7V3090.2M1905.9 3117.7V3104.2M2042.7 3117.7V3090.2M2179.4 3117.7V3104.2" stroke="#808080" stroke-width="7.4" fill="none"/>
<path d="M402.1 3117.7V3090.2M538.8 3117.7V3104.2M675.5 3117.7V3090.2M812.2 3117.7V3104.2M949.0 3117.7V3090.2M1085.7 3117.7V3104.2M1222.4 3117.7V3090.2M1359.1 3117.7V3104.2M1495.8 3117.7V3090.2M1632.5 3117.7V3104.2M1769.2 3117.7V3090.2M1905.9 3117.7V3104.2M2042.7 3117.7V3090.2M2179.4 3117.7V3104.2" stroke="#000" stroke-width="5.4" fill="none"/>
<path d="M402.1 1737.2H430.3M402.1 1835.8H416.1M402.1 1934.4H430.3M402.1 2033.0H416.1M402.1 2131.6H430.3M402.1 2230.2H416.1M402.1 2328.8H430.3M402.1 2427.4H416.1M402.1 2526.1H430.3M402.1 2624.7H416.1M402.1 2723.3H430.3M402.1 2821.9H416.1M402.1 2920.5H430.3M402.1 3019.1H416.1M402.1 3117.7H430.3" stroke="#808080" stroke-width="5.6" fill="none"/>
<path d="M402.1 1737.2H430.3M402.1 1835.8H416.1M402.1 1934.4H430.3M402.1 2033.0H416.1M402.1 2131.6H430.3M402.1 2230.2H416.1M402.1 2328.8H430.3M402.1 2427.4H416.1M402.1 2526.1H430.3M402.1 2624.7H416.1M402.1 2723.3H430.3M402.1 2821.9H416.1M402.1 2920.5H430.3M402.1 3019.1H416.1M402.1 3117.7H430.3" stroke="#000" stroke-width="3.6" fill="none"/>
<g font-family="'Liberation Serif', serif" font-size="61" font-weight="bold" fill="#000">
<text x="368" y="1754.4" text-anchor="end" textLength="94.8" lengthAdjust="spacingAndGlyphs">100</text>
<text x="368" y="1951.6" text-anchor="end" textLength="63.2" lengthAdjust="spacingAndGlyphs">90</text>
<text x="368" y="2148.8" text-anchor="end" textLength="63.2" lengthAdjust="spacingAndGlyphs">80</text>
<text x="368" y="2346.0" text-anchor="end" textLength="63.2" lengthAdjust="spacingAndGlyphs">70</text>
<text x="368" y="2543.3" text-anchor="end" textLength="63.2" lengthAdjust="spacingAndGlyphs">60</text>
<text x="368" y="2740.5" text-anchor="end" textLength="63.2" lengthAdjust="spacingAndGlyphs">50</text>
<text x="368" y="2937.7" text-anchor="end" textLength="63.2" lengthAdjust="spacingAndGlyphs">40</text>
<text x="368" y="3134.9" text-anchor="end" textLength="63.2" lengthAdjust="spacingAndGlyphs">30</text>
<text x="402.1" y="3192.5" text-anchor="middle" textLength="126.4" lengthAdjust="spacingAndGlyphs">4000</text>
<text x="675.5" y="3192.5" text-anchor="middle" textLength="126.4" lengthAdjust="spacingAndGlyphs">3500</text>
<text x="949.0" y="3192.5" text-anchor="middle" textLength="126.4" lengthAdjust="spacingAndGlyphs">3000</text>
<text x="1222.4" y="3192.5" text-anchor="middle" textLength="126.4" lengthAdjust="spacingAndGlyphs">2500</text>
<text x="1495.8" y="3192.5" text-anchor="middle" textLength="126.4" lengthAdjust="spacingAndGlyphs">2000</text>
<text x="1769.2" y="3192.5" text-anchor="middle" textLength="126.4" lengthAdjust="spacingAndGlyphs">1500</text>
<text x="2042.7" y="3192.5" text-anchor="middle" textLength="126.4" lengthAdjust="spacingAndGlyphs">1000</text>
</g>
<text transform="translate(206.7 2690.2) rotate(-90) scale(1 1.100)" font-family="'Liberation Serif', serif" font-weight="bold" font-size="72.7" textLength="533.0" lengthAdjust="spacingAndGlyphs" stroke="#fff" stroke-width="0.6">Absorbance(a.u.)</text>
<text transform="translate(991.5 3313.0) scale(1.110 1)" font-family="'Liberation Serif', serif" font-weight="bold" font-size="71" stroke="#fff" stroke-width="1.1">Wavenumbers(cm<tspan font-size="46.86" dy="-29.465" stroke-width="0.6">-1</tspan><tspan dy="29.465">)</tspan></text>
<text font-family="'Liberation Serif', serif" font-size="78" y="1820.4"><tspan x="15">(</tspan><tspan x="48">b</tspan><tspan x="92">)</tspan></text>
</svg>
</body></html>
